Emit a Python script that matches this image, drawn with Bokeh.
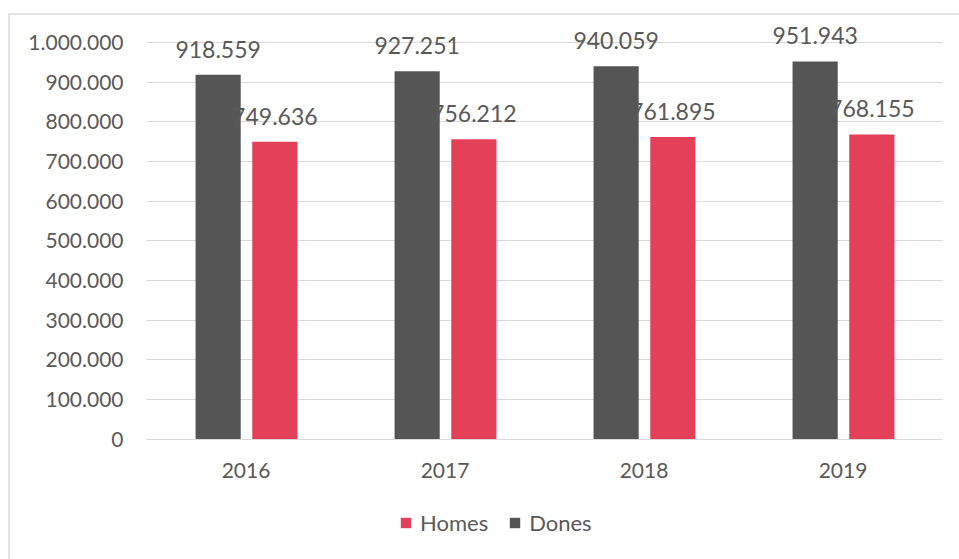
from bokeh.plotting import figure
from bokeh.models import (ColumnDataSource, FactorRange, Range1d, FixedTicker,
                          CustomJSTickFormatter, LabelSet, Legend, LegendItem)
from bokeh.core.properties import value
from bokeh.transform import dodge
from bokeh.embed import file_html
from bokeh.resources import INLINE

years = ["2016", "2017", "2018", "2019"]
homes = [749636, 756212, 761895, 768155]
dones = [918559, 927251, 940059, 951943]
y_ticks = [0, 100000, 200000, 300000, 400000, 500000, 600000, 700000, 800000, 900000, 1000000]

def fmt(v):
    return "{:,}".format(v).replace(",", ".")

src = ColumnDataSource(dict(
    years=years, homes=homes, dones=dones,
    homes_lbl=[fmt(v) for v in homes],
    dones_lbl=[fmt(v) for v in dones],
))

FONT = "Lato"
TXT = "#595959"
RED = "#E4405A"
DARK = "#555555"

p = figure(x_range=FactorRange(*years), y_range=Range1d(-307500, 1050000),
           width=951, height=546, output_backend="svg", toolbar_location=None,
           margin=(13, 0, 0, 8))
p.styles = {"border-top": "2px solid #e2e2e2", "border-left": "2px solid #e2e2e2"}
p.min_border_left = 136
p.min_border_right = 19
p.min_border_top = 7
p.min_border_bottom = 0
p.outline_line_color = None
p.background_fill_color = "white"
p.border_fill_color = "white"

bw = 0.227
rd = p.vbar(x=dodge("years", -0.14, range=p.x_range), top="dones", width=bw,
            source=src, fill_color=DARK, line_color=None)
rh = p.vbar(x=dodge("years", 0.145, range=p.x_range), top="homes", width=bw,
            source=src, fill_color=RED, line_color=None)

for col, off, lbl in (("dones", -0.14, "dones_lbl"), ("homes", 0.145, "homes_lbl")):
    ls = LabelSet(x=dodge("years", off, range=p.x_range), y=col, text=lbl, source=src,
                  text_align="center", text_baseline="alphabetic", y_offset=17,
                  text_font=value(FONT), text_font_size=value("23px"), text_color=TXT)
    p.add_layout(ls)

p.yaxis.ticker = FixedTicker(ticks=y_ticks)
p.yaxis.formatter = CustomJSTickFormatter(code="""
return Math.round(tick).toString().replace(/\\B(?=(\\d{3})+(?!\\d))/g, ".");
""")
p.yaxis.axis_line_color = None
p.yaxis.major_tick_line_color = None
p.yaxis.minor_tick_line_color = None
p.yaxis.major_label_standoff = 17
p.yaxis.major_label_text_font = FONT
p.yaxis.major_label_text_font_size = "21px"
p.yaxis.major_label_text_color = TXT

p.xaxis.fixed_location = 0
p.xaxis.axis_line_color = "#d9d9d9"
p.xaxis.major_tick_line_color = None
p.xaxis.minor_tick_line_color = None
p.xaxis.major_label_standoff = 18
p.xaxis.major_label_text_font = FONT
p.xaxis.major_label_text_font_size = "21px"
p.xaxis.major_label_text_color = TXT

p.xgrid.grid_line_color = None
p.ygrid.grid_line_color = "#d9d9d9"
p.ygrid.grid_line_width = 1
p.x_range.range_padding = 0
p.x_range.group_padding = 0

legend = Legend(items=[LegendItem(label="Homes", renderers=[rh]),
                       LegendItem(label="Dones", renderers=[rd])],
                orientation="horizontal", location=(253, 25),
                label_text_font=FONT, label_text_font_size="22px", label_text_color=TXT,
                glyph_width=13, glyph_height=13, label_standoff=8, spacing=20,
                border_line_color=None, background_fill_alpha=0, padding=0,
                margin=0)
p.add_layout(legend, "center")

open("out.html", "w").write(file_html(p, INLINE))
